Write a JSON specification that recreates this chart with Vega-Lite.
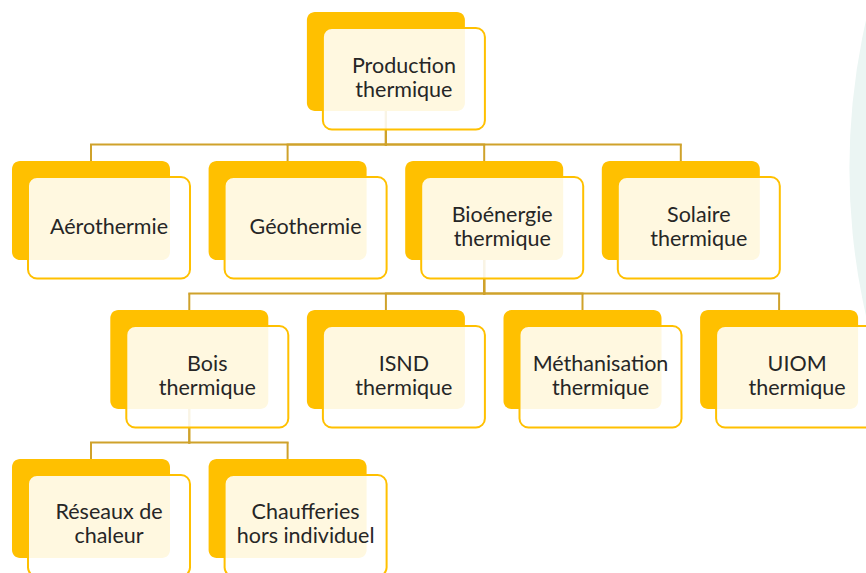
{
  "$schema": "https://vega.github.io/schema/vega-lite/v6.json",
  "width": 866,
  "height": 573,
  "padding": 0,
  "autosize": {"type": "none"},
  "background": "#ffffff",
  "config": {"view": {"stroke": null}, "axis": {"disable": true}},
  "datasets": {
    "nodes": [
      {"name": "Production thermique", "label": ["Production", "thermique"], "slot": 3, "level": 0},
      {"name": "Aérothermie", "label": ["Aérothermie"], "slot": 0, "level": 1},
      {"name": "Géothermie", "label": ["Géothermie"], "slot": 2, "level": 1},
      {"name": "Bioénergie thermique", "label": ["Bioénergie", "thermique"], "slot": 4, "level": 1},
      {"name": "Solaire thermique", "label": ["Solaire", "thermique"], "slot": 6, "level": 1},
      {"name": "Bois thermique", "label": ["Bois", "thermique"], "slot": 1, "level": 2},
      {"name": "ISND thermique", "label": ["ISND", "thermique"], "slot": 3, "level": 2},
      {"name": "Méthanisation thermique", "label": ["Méthanisation", "thermique"], "slot": 5, "level": 2},
      {"name": "UIOM thermique", "label": ["UIOM", "thermique"], "slot": 7, "level": 2},
      {"name": "Réseaux de chaleur", "label": ["Réseaux de", "chaleur"], "slot": 0, "level": 3},
      {"name": "Chaufferies hors individuel", "label": ["Chaufferies", "hors individuel"], "slot": 2, "level": 3}
    ],
    "edges": [
      {"parent": "Production thermique", "child": "Aérothermie", "pslot": 3, "plevel": 0, "cslot": 0, "clevel": 1},
      {"parent": "Production thermique", "child": "Géothermie", "pslot": 3, "plevel": 0, "cslot": 2, "clevel": 1},
      {"parent": "Production thermique", "child": "Bioénergie thermique", "pslot": 3, "plevel": 0, "cslot": 4, "clevel": 1},
      {"parent": "Production thermique", "child": "Solaire thermique", "pslot": 3, "plevel": 0, "cslot": 6, "clevel": 1},
      {"parent": "Bioénergie thermique", "child": "Bois thermique", "pslot": 4, "plevel": 1, "cslot": 1, "clevel": 2},
      {"parent": "Bioénergie thermique", "child": "ISND thermique", "pslot": 4, "plevel": 1, "cslot": 3, "clevel": 2},
      {"parent": "Bioénergie thermique", "child": "Méthanisation thermique", "pslot": 4, "plevel": 1, "cslot": 5, "clevel": 2},
      {"parent": "Bioénergie thermique", "child": "UIOM thermique", "pslot": 4, "plevel": 1, "cslot": 7, "clevel": 2},
      {"parent": "Bois thermique", "child": "Réseaux de chaleur", "pslot": 1, "plevel": 2, "cslot": 0, "clevel": 3},
      {"parent": "Bois thermique", "child": "Chaufferies hors individuel", "pslot": 1, "plevel": 2, "cslot": 2, "clevel": 3}
    ],
    "decor": [
      {"slot": 14.48, "level": 0.715}
    ]
  },
  "layer": [
    {
      "data": {"name": "decor"},
      "mark": {"type": "point", "shape": "circle", "filled": true, "fill": "#EBF5F3", "opacity": 1, "size": 1768900, "clip": true, "strokeWidth": 0},
      "encoding": {
        "x": {"field": "slot", "type": "quantitative", "scale": {"domain": [-0.9257, 7.884], "nice": false, "zero": false}, "axis": null},
        "y": {"field": "level", "type": "quantitative", "scale": {"domain": [-0.4128, 3.4329], "nice": false, "zero": false, "reverse": true}, "axis": null}
      }
    },
    {
      "data": {"name": "edges"},
      "mark": {"type": "rule", "color": "#CFA22B", "strokeWidth": 2, "strokeCap": "square", "yOffset": 83},
      "encoding": {
        "x": {"field": "pslot", "type": "quantitative"},
        "x2": {"field": "cslot"},
        "y": {"field": "plevel", "type": "quantitative"}
      }
    },
    {
      "data": {"name": "edges"},
      "mark": {"type": "rule", "color": "#CFA22B", "strokeWidth": 2, "strokeCap": "square", "yOffset": 49.5, "y2Offset": 83},
      "encoding": {
        "x": {"field": "pslot", "type": "quantitative"},
        "y": {"field": "plevel", "type": "quantitative"},
        "y2": {"field": "plevel"}
      }
    },
    {
      "data": {"name": "edges"},
      "mark": {"type": "rule", "color": "#CFA22B", "strokeWidth": 2, "strokeCap": "butt", "yOffset": -49.5, "y2Offset": 83},
      "encoding": {
        "x": {"field": "cslot", "type": "quantitative"},
        "y": {"field": "clevel", "type": "quantitative"},
        "y2": {"field": "plevel"}
      }
    },
    {
      "data": {"name": "nodes"},
      "mark": {"type": "rect", "fill": "#FFC000", "cornerRadius": 8, "xOffset": -79, "x2Offset": 79, "yOffset": -49.5, "y2Offset": 49.5},
      "encoding": {
        "x": {"field": "slot", "type": "quantitative"},
        "x2": {"field": "slot"},
        "y": {"field": "level", "type": "quantitative"},
        "y2": {"field": "level"}
      }
    },
    {
      "data": {"name": "nodes"},
      "mark": {"type": "rect", "fill": "#FFFFFF", "fillOpacity": 0.88, "stroke": "#FFC000", "strokeWidth": 2, "cornerRadius": 9, "xOffset": -63, "x2Offset": 99, "yOffset": -33.5, "y2Offset": 68},
      "encoding": {
        "x": {"field": "slot", "type": "quantitative"},
        "x2": {"field": "slot"},
        "y": {"field": "level", "type": "quantitative"},
        "y2": {"field": "level"}
      }
    },
    {
      "data": {"name": "nodes"},
      "transform": [{"filter": "length(datum.label) == 1"}],
      "mark": {"type": "text", "font": "Lato", "fontSize": 21.5, "lineHeight": 24, "color": "#262626", "align": "center", "baseline": "middle", "dx": 18, "dy": 17},
      "encoding": {
        "x": {"field": "slot", "type": "quantitative"},
        "y": {"field": "level", "type": "quantitative"},
        "text": {"field": "label"}
      }
    },
    {
      "data": {"name": "nodes"},
      "transform": [{"filter": "length(datum.label) == 2"}],
      "mark": {"type": "text", "font": "Lato", "fontSize": 21.5, "lineHeight": 24, "color": "#262626", "align": "center", "baseline": "middle", "dx": 18, "dy": 5},
      "encoding": {
        "x": {"field": "slot", "type": "quantitative"},
        "y": {"field": "level", "type": "quantitative"},
        "text": {"field": "label"}
      }
    }
  ]
}
